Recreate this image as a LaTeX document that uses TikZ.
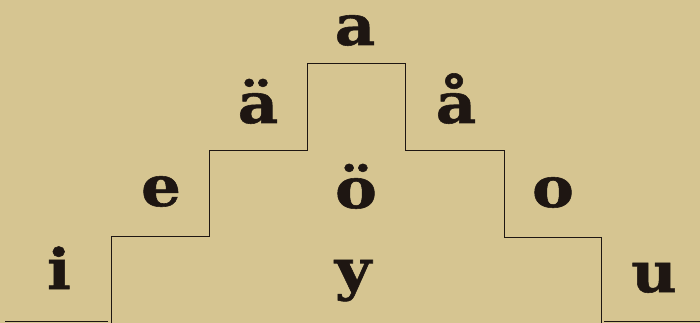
\documentclass[tikz,border=0pt]{standalone}
\usepackage{fontspec}
\newfontfamily\letterfont[FakeStretch=1.12,FakeBold=1]{DejaVu Serif Bold}
\definecolor{paper}{RGB}{214,197,145}
\definecolor{ink}{RGB}{30,22,18}
\begin{document}
\begin{tikzpicture}[x=1pt,y=-1pt,
  vowel/.style={anchor=base,inner sep=0pt,font=\letterfont\fontsize{56}{56}\selectfont,text=ink},
  stair/.style={draw=ink,line width=1pt}]
\fill[paper] (0,0) rectangle (700,323);
\useasboundingbox (0,0) rectangle (700,323);
\node[vowel] (a) at (355,45) {a};
\node[vowel] (ae) at (258,123) {ä};
\node[vowel] (aa) at (456,123) {å};
\node[vowel] (e) at (161,206) {e};
\node[vowel] (oe) at (356,208) {ö};
\node[vowel] (o) at (553,207) {o};
\node[vowel] (i) at (59,289) {i};
\node[vowel] (y) at (353,289) {y};
\node[vowel] (u) at (654,292) {u};
\draw[stair] (5,321) -- (108,321);
\draw[stair] (111,323) -- (111,236) -- (209,236) -- (209,151) -- (307,151) -- (307,64) -- (405,64) -- (405,151) -- (504,151) -- (504,237) -- (601,237) -- (601,323);
\draw[stair] (604,321) -- (700,321);
\end{tikzpicture}
\end{document}
